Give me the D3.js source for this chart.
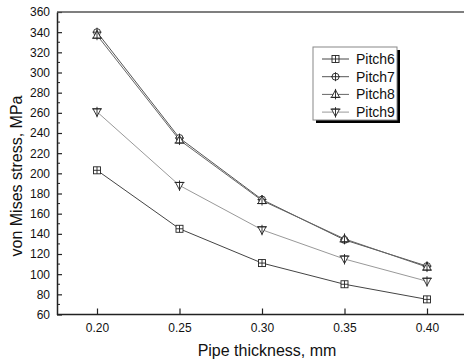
<!DOCTYPE html>
<html>
<head>
<meta charset="utf-8">
<script src="https://cdn.jsdelivr.net/npm/d3@7"></script>
<style>
  body { margin: 0; background: #fff; }
  svg { display: block; font-family: Arial, "Liberation Sans", sans-serif; }
</style>
</head>
<body>
<svg id="chart" width="464" height="360"></svg>
<script>
const thickness = [0.20, 0.25, 0.30, 0.35, 0.40];
const pitch6 = [203, 145, 111, 90, 75];
const pitch7 = [340, 235, 174, 134, 108];
const pitch8 = [337, 233, 173, 135, 107];
const pitch9 = [261, 188, 144, 115, 93];
const seriesNames = ["Pitch6", "Pitch7", "Pitch8", "Pitch9"];
const yTicks = [60, 80, 100, 120, 140, 160, 180, 200, 220, 240, 260, 280, 300, 320, 340, 360];
const xTicks = ["0.20", "0.25", "0.30", "0.35", "0.40"];

const series = [
  { name: seriesNames[0], values: pitch6, marker: "square", color: "#444" },
  { name: seriesNames[1], values: pitch7, marker: "circle", color: "#555" },
  { name: seriesNames[2], values: pitch8, marker: "triup", color: "#666" },
  { name: seriesNames[3], values: pitch9, marker: "tridown", color: "#999" }
];

const svg = d3.select("#chart");
const width = +svg.attr("width");

const plotLeft = 57, plotTop = 12, plotBottom = 314.5;

const x = d3.scaleLinear().domain([0.20, 0.40]).range([97, 427]);
const y = d3.scaleLinear().domain([60, 360]).range([plotBottom, plotTop]);

// markers
function drawMarker(g, type, cx, cy) {
  const s = 3.5;
  const m = g.append("g").attr("fill", "#fff").attr("stroke", "#222").attr("stroke-width", 0.9);
  if (type === "square") {
    m.append("rect").attr("x", cx - s).attr("y", cy - s).attr("width", 2 * s).attr("height", 2 * s);
    m.append("path").attr("d", `M${cx - s},${cy}H${cx + s}M${cx},${cy - s}V${cy + s}`);
  } else if (type === "circle") {
    m.append("circle").attr("cx", cx).attr("cy", cy).attr("r", s);
    m.append("path").attr("d", `M${cx - s - 1},${cy}H${cx + s + 1}M${cx},${cy - s - 1}V${cy + s + 1}`);
  } else if (type === "triup") {
    m.append("path").attr("d", `M${cx},${cy - s - 1}L${cx + s + 0.5},${cy + s - 0.5}L${cx - s - 0.5},${cy + s - 0.5}Z`);
    m.append("path").attr("d", `M${cx},${cy - s - 2}V${cy + s + 1.5}M${cx - s - 1.5},${cy + s - 0.5}H${cx + s + 1.5}`);
  } else {
    m.append("path").attr("d", `M${cx},${cy + s + 1}L${cx + s + 0.5},${cy - s + 0.5}L${cx - s - 0.5},${cy - s + 0.5}Z`);
    m.append("path").attr("d", `M${cx},${cy + s + 2}V${cy - s - 1.5}M${cx - s - 1.5},${cy - s + 0.5}H${cx + s + 1.5}`);
  }
}

// y axis
const yAxis = svg.append("g")
  .attr("transform", `translate(${plotLeft},0)`)
  .call(d3.axisLeft(y).tickValues(yTicks).tickSize(-5).tickSizeOuter(0).tickPadding(7).tickFormat(d3.format("d")));
yAxis.select(".domain").attr("stroke", "#222").attr("stroke-width", 1.5);
yAxis.selectAll(".tick line").attr("stroke", "#222").attr("stroke-width", 1.2);
yAxis.selectAll(".tick text").attr("font-size", 12).attr("fill", "#111");

const minor = d3.range(70, 360, 20);
svg.append("g").selectAll("line").data(minor).join("line")
  .attr("x1", plotLeft).attr("x2", plotLeft + 3)
  .attr("y1", d => y(d)).attr("y2", d => y(d))
  .attr("stroke", "#222").attr("stroke-width", 1);

// x axis
const xAxis = svg.append("g")
  .attr("transform", `translate(0,${plotBottom})`)
  .call(d3.axisBottom(x).tickValues(xTicks.map(Number)).tickSize(-6).tickSizeOuter(0).tickPadding(9).tickFormat(d3.format(".2f")));
xAxis.select(".domain").remove();
xAxis.selectAll(".tick line").attr("stroke", "#222").attr("stroke-width", 1.2);
xAxis.selectAll(".tick text").attr("font-size", 12).attr("fill", "#111");

svg.append("line")
  .attr("x1", plotLeft).attr("x2", width)
  .attr("y1", plotBottom).attr("y2", plotBottom)
  .attr("stroke", "#222").attr("stroke-width", 1.5);
svg.append("line")
  .attr("x1", plotLeft).attr("x2", width)
  .attr("y1", plotTop).attr("y2", plotTop)
  .attr("stroke", "#555").attr("stroke-width", 1.6);

// lines and markers
const line = d3.line().x((d, i) => x(thickness[i])).y(d => y(d));
series.forEach(s => {
  svg.append("path")
    .datum(s.values)
    .attr("fill", "none")
    .attr("stroke", s.color)
    .attr("stroke-width", 1)
    .attr("d", line);
});
series.forEach(s => {
  const g = svg.append("g");
  s.values.forEach((v, i) => drawMarker(g, s.marker, x(thickness[i]), y(v)));
});

// legend
const lg = svg.append("g");
lg.append("rect").attr("x", 316).attr("y", 50).attr("width", 84).attr("height", 73).attr("fill", "#000");
lg.append("rect").attr("x", 313).attr("y", 47).attr("width", 84).attr("height", 73)
  .attr("fill", "#fff").attr("stroke", "#888").attr("stroke-width", 1);
series.forEach((s, i) => {
  const ly = 59 + i * 17.7;
  lg.append("line").attr("x1", 322).attr("x2", 349).attr("y1", ly).attr("y2", ly)
    .attr("stroke", s.color).attr("stroke-width", 1);
  drawMarker(lg, s.marker, 335.5, ly);
  lg.append("text").attr("x", 356).attr("y", ly).attr("dy", "0.36em")
    .attr("font-size", 14).attr("fill", "#111").text(s.name);
});

// axis titles
svg.append("text")
  .attr("x", 267).attr("y", 350).attr("dy", "0.36em")
  .attr("text-anchor", "middle").attr("font-size", 16).attr("fill", "#111")
  .text("Pipe thickness, mm");
svg.append("text")
  .attr("transform", "rotate(-90)")
  .attr("x", -176).attr("y", 16).attr("dy", "0.36em")
  .attr("text-anchor", "middle").attr("font-size", 16).attr("fill", "#111")
  .text("von Mises stress, MPa");
</script>
</body>
</html>
